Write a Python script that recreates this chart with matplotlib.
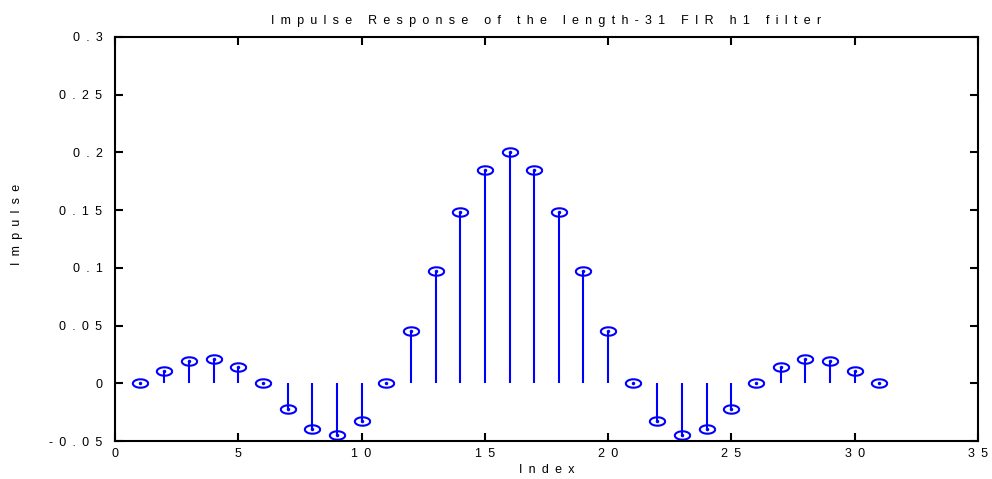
import numpy as np
import matplotlib
matplotlib.use("Agg")
import matplotlib.pyplot as plt
from matplotlib.path import Path


# impulse response values, index 1..31
idx = np.arange(1, 32)
h1 = [0.0, 0.011, 0.0195, 0.021, 0.0143, 0.0, -0.0222, -0.0392, -0.0448, -0.0325,
      0.0, 0.0452, 0.0975, 0.148, 0.185, 0.2, 0.185, 0.148, 0.0975, 0.0452,
      0.0, -0.0325, -0.0448, -0.0392, -0.0222, 0.0, 0.0143, 0.021, 0.0195, 0.011, 0.0]

xticks = [0, 5, 10, 15, 20, 25, 30, 35]
yticks = [-0.05, 0, 0.05, 0.1, 0.15, 0.2, 0.25, 0.3]
ytick_labels = ["-0.05", "0", "0.05", "0.1", "0.15", "0.2", "0.25", "0.3"]

title = "Impulse Response of the length-31 FIR h1 filter"
xlabel = "Index"
ylabel = "Impulse"


def spaced(s):
    # old matlab print look: letters spread out (en space between chars)
    return "\u2002".join(s)


plt.rcParams['font.family'] = ['Liberation Sans', 'DejaVu Sans']
fs = 9

# flat ellipse marker like the original
t = np.linspace(0, 2 * np.pi, 60)
ellipse = Path(np.column_stack([np.cos(t), 0.55 * np.sin(t)]))

fig = plt.figure(figsize=(9.92, 4.79), dpi=100)
ax = fig.add_axes([0.1159, 0.0793, 0.8700, 0.8435])

blue = "#0000ff"
ax.vlines(idx, 0, h1, color=blue, lw=1.5)
ax.plot(idx, h1, ls="none", marker=ellipse, ms=11, mfc="none", mec=blue, mew=1.5)
ax.plot(idx, h1, ls="none", marker="o", ms=1.5, color=blue)

ax.set_xlim(0, 35)
ax.set_ylim(-0.05, 0.3)
ax.set_xticks(xticks)
ax.set_xticklabels([spaced(str(v)) for v in xticks], fontsize=fs)
ax.set_yticks(yticks)
ax.set_yticklabels([spaced(s) for s in ytick_labels], fontsize=fs)

ax.tick_params(direction="in", length=6, width=1.5, top=True, right=True,
               labeltop=False, labelright=False, colors="black")
ax.tick_params(axis="y", pad=9)
ax.tick_params(axis="x", pad=5)
for sp in ax.spines.values():
    sp.set_linewidth(1.5)

ax.set_title(spaced(title), fontsize=fs, pad=9.5)
ax.set_xlabel(spaced(xlabel), fontsize=fs)
ax.set_ylabel(spaced(ylabel), fontsize=fs)
ax.xaxis.set_label_coords(0.5, -0.072)
ax.yaxis.set_label_coords(-0.113, 0.535)
ax.xaxis.label.set_va("center")
ax.yaxis.label.set_va("center")

fig.savefig("out.png", dpi=100)
